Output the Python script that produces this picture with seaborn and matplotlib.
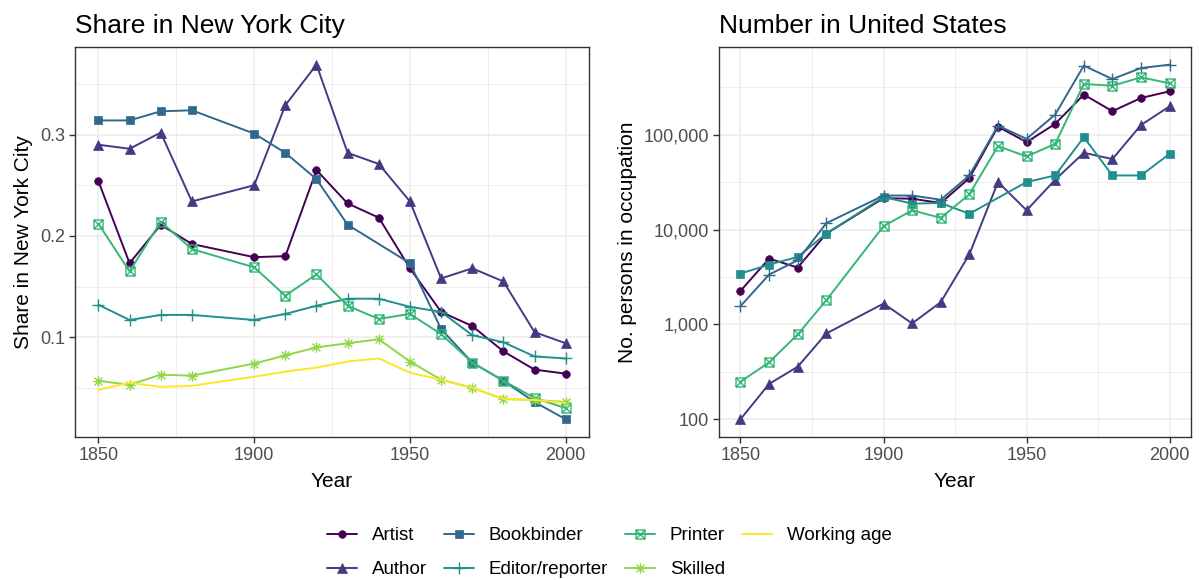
import numpy as np
import pandas as pd
import seaborn as sns
import matplotlib.pyplot as plt
from matplotlib.path import Path
from matplotlib.ticker import FixedLocator, FuncFormatter

# Datos
years = [1850, 1860, 1870, 1880, 1900, 1910, 1920, 1930, 1940, 1950, 1960, 1970, 1980, 1990, 2000]
occupations = ["Artist", "Author", "Bookbinder", "Editor/reporter", "Printer", "Skilled", "Working age"]

nyc_artist = [0.254, 0.173, 0.211, 0.192, 0.179, 0.180, 0.265, 0.232, 0.218, 0.168, 0.125, 0.111, 0.086, 0.068, 0.064]
nyc_author = [0.290, 0.286, 0.302, 0.234, 0.250, 0.329, 0.369, 0.282, 0.271, 0.234, 0.158, 0.168, 0.155, 0.105, 0.094]
nyc_bookbinder = [0.314, 0.314, 0.323, 0.324, 0.301, 0.282, 0.256, 0.211, np.nan, 0.173, 0.108, 0.075, 0.057, 0.036, 0.019]
nyc_editor = [0.132, 0.117, 0.122, 0.122, 0.117, 0.123, 0.131, 0.138, 0.138, 0.130, 0.125, 0.102, 0.095, 0.081, 0.079]
nyc_printer = [0.212, 0.165, 0.214, 0.187, 0.169, 0.141, 0.162, 0.131, 0.118, 0.123, 0.103, 0.075, 0.057, 0.040, 0.030]
nyc_skilled = [0.057, 0.053, 0.063, 0.062, 0.074, 0.082, 0.090, 0.094, 0.098, 0.076, 0.058, 0.050, 0.039, 0.038, 0.036]
nyc_working = [0.048, 0.055, 0.051, 0.052, 0.061, 0.066, 0.070, 0.076, 0.079, 0.065, 0.058, 0.050, 0.039, 0.038, 0.035]

us_artist = [2260, 4950, 3980, 9080, 21500, 21200, 19100, 35000, 122000, 83800, 130600, 266000, 177600, 245000, 288000]
us_author = [100, 236, 358, 803, 1660, 1025, 1718, 5495, 31800, 16000, 33600, 64700, 55500, 127000, 200000]
us_bookbinder = [3440, 4280, 5160, 9080, 22100, 18800, 19100, 14700, np.nan, 31800, 37300, 94400, 37300, 37300, 63100]
us_editor = [1560, 3360, 4750, 11700, 22900, 22900, 20700, 37300, 125000, 90800, 163700, 537000, 388000, 507000, 550000]
us_printer = [249, 398, 785, 1800, 10900, 16000, 13300, 23600, 76000, 59200, 80400, 344000, 330000, 404000, 350000]

nyc = {"Artist": nyc_artist, "Author": nyc_author, "Bookbinder": nyc_bookbinder,
       "Editor/reporter": nyc_editor, "Printer": nyc_printer, "Skilled": nyc_skilled,
       "Working age": nyc_working}
us = {"Artist": us_artist, "Author": us_author, "Bookbinder": us_bookbinder,
      "Editor/reporter": us_editor, "Printer": us_printer}

# Marcadores tipo ggplot
M, L = Path.MOVETO, Path.LINETO
sq_cross = Path([(-1, -1), (1, -1), (1, 1), (-1, 1), (-1, -1), (-1, -1), (1, 1), (-1, 1), (1, -1)],
                [M, L, L, L, L, M, L, M, L])
d = 0.75
asterisk = Path([(-1, 0), (1, 0), (0, -1), (0, 1), (-d, -d), (d, d), (-d, d), (d, -d)],
                [M, L, M, L, M, L, M, L])

# viridis discreto (como ggplot)
vir = ["#440154", "#443A83", "#31688E", "#21908C", "#35B779", "#8FD744", "#FDE725"]
colors_nyc = dict(zip(occupations, vir))
colors_us = dict(colors_nyc)
colors_us["Bookbinder"], colors_us["Editor/reporter"] = vir[3], vir[2]

markers = {"Artist": ("o", 5.5, True), "Author": ("^", 6.5, True), "Bookbinder": ("s", 5.5, True),
           "Editor/reporter": ("+", 9, False), "Printer": (sq_cross, 6.5, False),
           "Skilled": (asterisk, 7.5, False), "Working age": (None, 0, False)}

sns.set_theme(style="white")
plt.rcParams["font.family"] = ["Liberation Sans", "DejaVu Sans"]
plt.rcParams["text.color"] = "black"

fig = plt.figure(figsize=(11.99, 5.8), dpi=100)
ax1 = fig.add_axes([0.0626, 0.2466, 0.4287, 0.6724])
ax2 = fig.add_axes([0.5997, 0.2466, 0.3937, 0.6724])


def draw(ax, series, cols):
    for occ, vals in series.items():
        df = pd.DataFrame({"year": years, "value": vals}).dropna()
        mk, ms, filled = markers[occ]
        kw = dict(color=cols[occ], linewidth=1.4, label=occ)
        if mk is not None:
            kw.update(marker=mk, markersize=ms, markeredgecolor=cols[occ],
                      markerfacecolor=cols[occ] if filled else "none",
                      markeredgewidth=1.0 if not filled else 0.5)
        sns.lineplot(data=df, x="year", y="value", estimator=None, ax=ax, **kw)


draw(ax1, nyc, colors_nyc)
draw(ax2, us, colors_us)

grey_txt = "#4D4D4D"
for ax in (ax1, ax2):
    ax.set_xlim(1842.5, 2007.5)
    ax.xaxis.set_major_locator(FixedLocator([1850, 1900, 1950, 2000]))
    ax.xaxis.set_minor_locator(FixedLocator([1875, 1925, 1975]))
    ax.grid(True, which="major", color="#EBEBEB", linewidth=1.1)
    ax.grid(True, which="minor", color="#EBEBEB", linewidth=0.6)
    ax.set_axisbelow(True)
    for s in ax.spines.values():
        s.set_color("#333333")
        s.set_linewidth(1.0)
    ax.tick_params(which="major", length=4, width=1.0, color="#333333", labelsize=13,
                   labelcolor=grey_txt, left=True, bottom=True, pad=3)
    ax.tick_params(which="minor", length=0)
    ax.set_xlabel("Year", fontsize=15, color="black", labelpad=6)
    if ax.get_legend():
        ax.get_legend().remove()

ax1.set_ylim(0.0015, 0.3865)
ax1.yaxis.set_major_locator(FixedLocator([0.1, 0.2, 0.3]))
ax1.yaxis.set_minor_locator(FixedLocator([0.05, 0.15, 0.25, 0.35]))
ax1.yaxis.set_major_formatter(FuncFormatter(lambda v, p: f"{v:.1f}"))
ax1.set_ylabel("Share in New York City", fontsize=15, color="black", labelpad=5)
ax1.set_title("Share in New York City", fontsize=19, loc="left", pad=10, color="black")

ax2.set_yscale("log")
ax2.set_ylim(10 ** 1.813, 10 ** 5.927)
ax2.yaxis.set_major_locator(FixedLocator([100, 1000, 10000, 100000]))
ax2.yaxis.set_minor_locator(FixedLocator([10 ** 2.5, 10 ** 3.5, 10 ** 4.5, 10 ** 5.5]))
ax2.yaxis.set_major_formatter(FuncFormatter(lambda v, p: f"{int(round(v)):,}"))
ax2.set_ylabel("No. persons in occupation", fontsize=15, color="black", labelpad=5)
ax2.set_title("Number in United States", fontsize=19, loc="left", pad=10, color="black")

handles, labels = ax1.get_legend_handles_labels()
leg = fig.legend(handles, labels, loc="center", bbox_to_anchor=(0.508, 0.047), ncol=4,
                 frameon=False, fontsize=13.5, handlelength=1.6, handletextpad=0.8,
                 columnspacing=0.9, labelspacing=0.9)
for t in leg.get_texts():
    t.set_color("black")

plt.savefig("out.png", dpi=100)
plt.close()
